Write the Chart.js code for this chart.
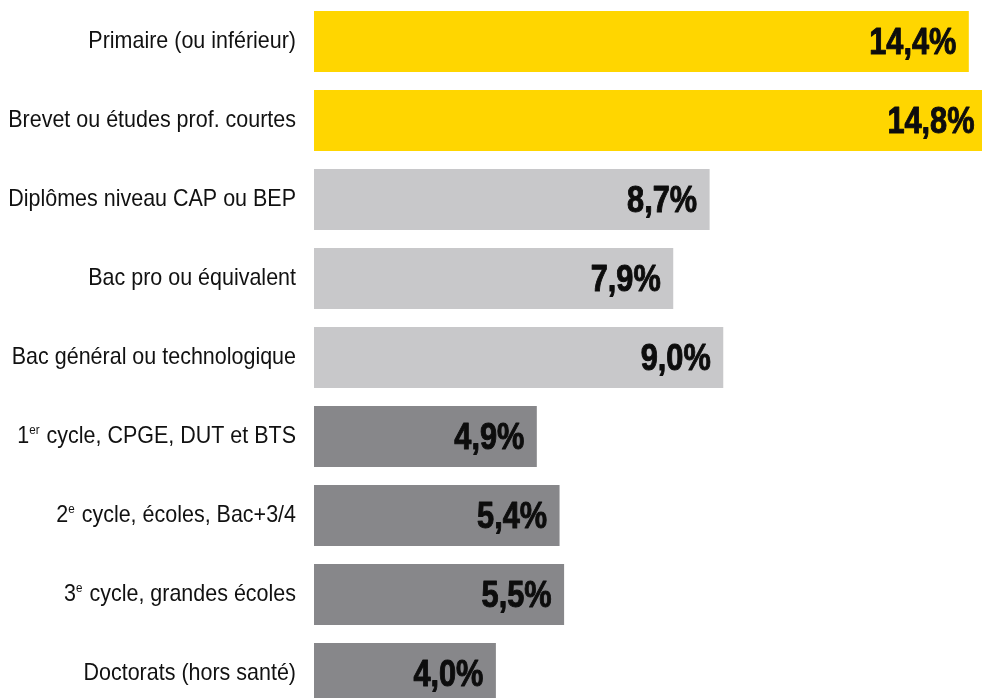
<!DOCTYPE html>
<html>
<head>
<meta charset="utf-8">
<script src="https://cdn.jsdelivr.net/npm/chart.js@4/dist/chart.umd.min.js"></script>
<style>
  html, body { margin: 0; padding: 0; background: #fff; overflow: hidden; }
  #wrap { width: 982px; height: 714px; }
</style>
</head>
<body>
<div id="wrap"><canvas id="chart" width="982" height="714"></canvas></div>
<script>
// categories, "^xx" marks a superscript
const categories = [
  'Primaire (ou inférieur)',
  'Brevet ou études prof. courtes',
  'Diplômes niveau CAP ou BEP',
  'Bac pro ou équivalent',
  'Bac général ou technologique',
  '1^er cycle, CPGE, DUT et BTS',
  '2^e cycle, écoles, Bac+3/4',
  '3^e cycle, grandes écoles',
  'Doctorats (hors santé)'
];
const values = [14.4, 14.8, 8.7, 7.9, 9.0, 4.9, 5.4, 5.5, 4.0];
const valueLabels = ['14,4%', '14,8%', '8,7%', '7,9%', '9,0%', '4,9%', '5,4%', '5,5%', '4,0%'];

const YELLOW = '#FFD600';
const LIGHT = '#C8C8CA';
const DARK = '#87878A';
const barColors = [YELLOW, YELLOW, LIGHT, LIGHT, LIGHT, DARK, DARK, DARK, DARK];

const FONT = '"Liberation Sans", Arial, sans-serif';

// draws a label made of normal and superscript parts, right aligned at xRight
function drawCategory(ctx, text, xRight, baseline) {
  const parts = [];
  text.split(/(\^\w+)/).forEach(p => {
    if (!p) return;
    if (p[0] === '^') parts.push({ t: p.slice(1), sup: true });
    else parts.push({ t: p, sup: false });
  });
  const sx = 0.895;
  let total = 0;
  parts.forEach(p => {
    ctx.font = p.sup ? '13px ' + FONT : '24px ' + FONT;
    p.w = ctx.measureText(p.t).width * sx + (p.sup ? 1 : 0);
    total += p.w;
  });
  let x = xRight - total;
  parts.forEach(p => {
    ctx.save();
    ctx.font = p.sup ? '13px ' + FONT : '24px ' + FONT;
    ctx.translate(x, p.sup ? baseline - 9.5 : baseline);
    ctx.scale(sx, 1);
    ctx.textAlign = 'left';
    ctx.textBaseline = 'alphabetic';
    ctx.fillText(p.t, 0, 0);
    ctx.restore();
    x += p.w;
  });
}

const labelsPlugin = {
  id: 'labels',
  afterDatasetsDraw(chart) {
    const ctx = chart.ctx;
    const yScale = chart.scales.y;
    ctx.fillStyle = '#111';
    categories.forEach((c, i) => {
      drawCategory(ctx, c, 296, yScale.getPixelForValue(i) + 6.5);
    });
    const meta = chart.getDatasetMeta(0);
    meta.data.forEach((bar, i) => {
      ctx.save();
      ctx.fillStyle = '#0d0d0d';
      ctx.strokeStyle = '#0d0d0d';
      ctx.lineWidth = 1;
      ctx.lineJoin = 'round';
      ctx.font = 'bold 37px ' + FONT;
      ctx.textAlign = 'right';
      ctx.textBaseline = 'alphabetic';
      ctx.translate(bar.x - 12.5, bar.y + 12.5);
      ctx.scale(0.83, 1);
      ctx.fillText(valueLabels[i], 0, 0);
      ctx.strokeText(valueLabels[i], 0, 0);
      ctx.restore();
    });
  }
};

new Chart(document.getElementById('chart'), {
  type: 'bar',
  data: {
    labels: categories,
    datasets: [{
      data: values,
      backgroundColor: barColors,
      borderWidth: 0,
      barPercentage: 0.772,
      categoryPercentage: 1
    }]
  },
  options: {
    indexAxis: 'y',
    responsive: false,
    animation: false,
    layout: { padding: { left: 314, top: 2, right: 0, bottom: 1 } },
    plugins: { legend: { display: false }, tooltip: { enabled: false } },
    scales: {
      x: { display: false, min: 0, max: 14.69 },
      y: { display: false }
    }
  },
  plugins: [labelsPlugin]
});
</script>
</body>
</html>
